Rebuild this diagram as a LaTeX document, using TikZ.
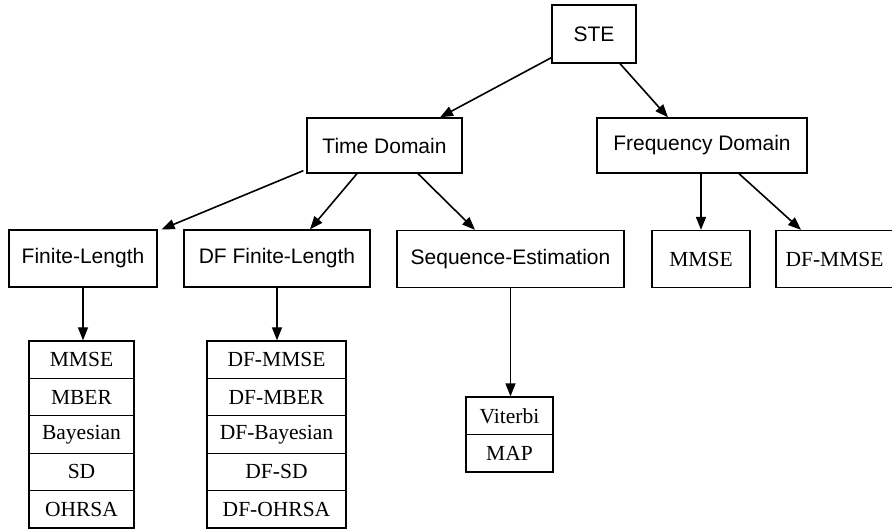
\documentclass[tikz,border=0pt]{standalone}
\usepackage{fontspec}
\usetikzlibrary{arrows.meta}
\newfontfamily\hvfont{Liberation Sans}
\newfontfamily\tmfont{Liberation Serif}
\begin{document}
\begin{tikzpicture}[x=1pt,y=-1pt,
  box/.style={draw,line width=1.3pt,inner sep=0pt,font=\hvfont\fontsize{21}{25}\selectfont},
  cell/.style={draw,line width=1.3pt,inner sep=0pt,minimum height=37.4pt,font=\tmfont\fontsize{21.5}{25}\selectfont},
  link/.style={line width=1.6pt,-{Triangle[length=13pt,width=10pt]}},
  thinlink/.style={line width=1.2pt,-{Triangle[length=13pt,width=10pt]}}]
\useasboundingbox (0,0) rectangle (892,530);
\clip (0,0) rectangle (892,530);

% top and middle levels
\node[box,minimum width=84pt,minimum height=58pt]  (ste) at (594,34)    {STE};
\node[box,minimum width=155pt,minimum height=55pt] (td)  at (384.5,145.5) {Time Domain};
\node[box,minimum width=210pt,minimum height=55pt] (fd)  at (702,145.5)   {Frequency Domain};

% third level
\node[box,minimum width=148pt,minimum height=57pt] (fl)  at (83,258.5)    {Finite-Length};
\node[box,minimum width=186pt,minimum height=57pt] (dfl) at (277,258.5)   {DF Finite-Length};
\node[box,minimum width=227pt,minimum height=57pt] (se)  at (510.5,259)   {Sequence-Estimation};
\node[cell,minimum width=98pt,minimum height=57pt] (mm)  at (701,259)     {MMSE};
\node[cell,minimum width=117pt,minimum height=57pt](dfm) at (834.5,259)   {DF-MMSE};

% linear equalizer stack
\foreach \t [count=\i from 0] in {MMSE,MBER,Bayesian,SD,OHRSA}
  \node[cell,minimum width=105pt] (a\i) at (81.5,{341+(\i+0.5)*37.4}) {\t};
% decision-feedback stack
\foreach \t [count=\i from 0] in {DF-MMSE,DF-MBER,DF-Bayesian,DF-SD,DF-OHRSA}
  \node[cell,minimum width=139pt] (b\i) at (276.5,{341+(\i+0.5)*37.4}) {\t};
% sequence estimation stack
\foreach \t [count=\i from 0] in {Viterbi,MAP}
  \node[cell,minimum width=87pt] (c\i) at (509.5,{397+(\i+0.5)*37.5}) {\t};

% connectors
\draw[link] ([yshift=6pt]ste.south west) -- ([xshift=55.5pt]td.north);
\draw[link] ([xshift=26pt]ste.south) -- ([xshift=-34pt]fd.north);
\draw[link] ([xshift=-3pt,yshift=3pt]td.south west) -- ([xshift=4pt]fl.north east);
\draw[link] ([xshift=-27.5pt]td.south) -- ([xshift=33pt]dfl.north);
\draw[link] ([xshift=33.5pt]td.south) -- ([xshift=-35.5pt]se.north);
\draw[link] (fd.south -| mm.north) -- (mm.north);
\draw[link] ([xshift=37pt]fd.south) -- ([xshift=-33.5pt]dfm.north);
\draw[thinlink] (fl.south) -- (fl.south |- a0.north);
\draw[thinlink] (dfl.south) -- (dfl.south |- b0.north);
\draw[thinlink] (se.south) -- (se.south |- c0.north);
\end{tikzpicture}
\end{document}
